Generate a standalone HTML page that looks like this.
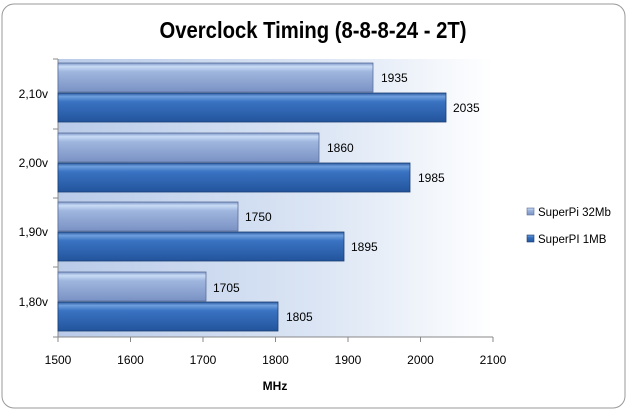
<!DOCTYPE html>
<html><head><meta charset="utf-8"><style>
html,body{margin:0;padding:0;background:#fff;}
svg{display:block;font-family:"Liberation Sans",sans-serif;}
</style></head><body>
<svg width="628" height="412" viewBox="0 0 628 412" xmlns="http://www.w3.org/2000/svg">
<defs>
<linearGradient id="bg" x1="0" x2="1" y1="0" y2="0">
<stop offset="0" stop-color="#b9cbe9"/><stop offset="0.6" stop-color="#dbe5f4"/><stop offset="1" stop-color="#ffffff"/>
</linearGradient>
<linearGradient id="lt" x1="0" x2="0" y1="0" y2="1">
<stop offset="0" stop-color="#7f98c8"/><stop offset="0.12" stop-color="#c9dcf6"/><stop offset="0.3" stop-color="#9fb6de"/><stop offset="1" stop-color="#7a92c4"/>
</linearGradient>
<linearGradient id="dk" x1="0" x2="0" y1="0" y2="1">
<stop offset="0" stop-color="#2a5aa0"/><stop offset="0.12" stop-color="#6f9fde"/><stop offset="0.3" stop-color="#3a73c2"/><stop offset="1" stop-color="#22549c"/>
</linearGradient>
</defs>
<rect x="2" y="4" width="623" height="404" rx="12" fill="#fff" stroke="#999" stroke-width="1"/>
<text x="313" y="38" text-anchor="middle" font-size="23" font-weight="bold" textLength="307" lengthAdjust="spacingAndGlyphs" fill="#000">Overclock Timing (8-8-8-24 - 2T)</text>
<rect x="58" y="59" width="435" height="278" fill="url(#bg)"/>
<line x1="58" y1="59" x2="58" y2="337" stroke="#888"/>
<line x1="58" y1="337" x2="493" y2="337" stroke="#888"/>
<g stroke="#888">
<line x1="53" y1="59" x2="58" y2="59"/><line x1="53" y1="129" x2="58" y2="129"/><line x1="53" y1="198" x2="58" y2="198"/><line x1="53" y1="267" x2="58" y2="267"/><line x1="53" y1="337" x2="58" y2="337"/>
<line x1="58" y1="337" x2="58" y2="342"/><line x1="130.5" y1="337" x2="130.5" y2="342"/><line x1="203" y1="337" x2="203" y2="342"/><line x1="275.5" y1="337" x2="275.5" y2="342"/><line x1="348" y1="337" x2="348" y2="342"/><line x1="420.5" y1="337" x2="420.5" y2="342"/><line x1="493" y1="337" x2="493" y2="342"/>
</g>
<g stroke-width="0.8">
<rect x="58" y="63" width="315" height="29" fill="url(#lt)" stroke="#5a6f9a"/>
<rect x="58" y="93" width="388" height="29" fill="url(#dk)" stroke="#1c3f73"/>
<rect x="58" y="133" width="261" height="29" fill="url(#lt)" stroke="#5a6f9a"/>
<rect x="58" y="163" width="352" height="29" fill="url(#dk)" stroke="#1c3f73"/>
<rect x="58" y="202" width="180" height="29" fill="url(#lt)" stroke="#5a6f9a"/>
<rect x="58" y="232" width="286" height="29" fill="url(#dk)" stroke="#1c3f73"/>
<rect x="58" y="272" width="148" height="29" fill="url(#lt)" stroke="#5a6f9a"/>
<rect x="58" y="302" width="220" height="29" fill="url(#dk)" stroke="#1c3f73"/>
</g>
<g font-size="12" fill="#000">
<text x="381" y="82">1935</text><text x="453" y="112">2035</text>
<text x="327" y="152">1860</text><text x="418" y="182">1985</text>
<text x="245" y="221">1750</text><text x="351" y="251">1895</text>
<text x="213" y="292">1705</text><text x="286" y="321">1805</text>
<text x="48" y="98" text-anchor="end">2,10v</text>
<text x="48" y="167" text-anchor="end">2,00v</text>
<text x="48" y="236" text-anchor="end">1,90v</text>
<text x="48" y="306" text-anchor="end">1,80v</text>
<g text-anchor="middle">
<text x="58" y="364">1500</text><text x="130.5" y="364">1600</text><text x="203" y="364">1700</text><text x="275.5" y="364">1800</text><text x="348" y="364">1900</text><text x="420.5" y="364">2000</text><text x="493" y="364">2100</text>
</g>
<text x="275" y="390" text-anchor="middle" font-weight="bold">MHz</text>
<rect x="527" y="208" width="7" height="7" fill="url(#lt)" stroke="#5a6f9a" stroke-width="0.6"/>
<text x="538" y="216" font-size="11.5">SuperPi 32Mb</text>
<rect x="527" y="235" width="7" height="7" fill="url(#dk)" stroke="#1c3f73" stroke-width="0.6"/>
<text x="538" y="243" font-size="11.5">SuperPI 1MB</text>
</g>
</svg>
</body></html>
